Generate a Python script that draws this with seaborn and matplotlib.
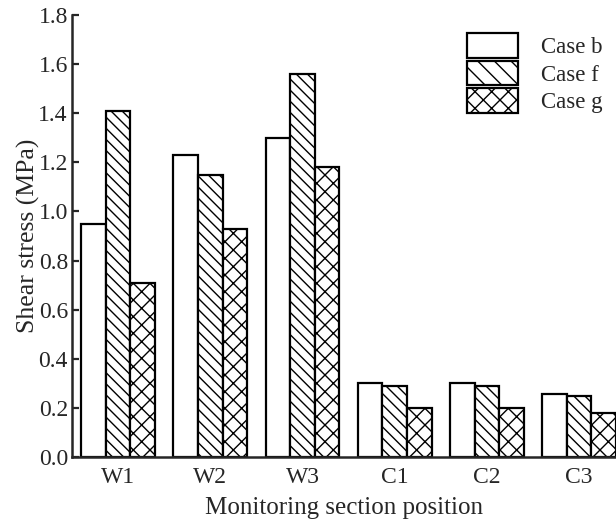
import matplotlib
matplotlib.use("Agg")
import matplotlib.pyplot as plt
import seaborn as sns
import pandas as pd

positions = ["W1", "W2", "W3", "C1", "C2", "C3"]
cases = ["Case b", "Case f", "Case g"]
case_b = [0.95, 1.23, 1.30, 0.30, 0.30, 0.255]
case_f = [1.41, 1.15, 1.56, 0.29, 0.29, 0.25]
case_g = [0.71, 0.93, 1.18, 0.20, 0.20, 0.18]
y_ticks = [0.0, 0.2, 0.4, 0.6, 0.8, 1.0, 1.2, 1.4, 1.6, 1.8]

df = pd.DataFrame({
    "position": positions * 3,
    "case": [c for c in cases for _ in positions],
    "stress": case_b + case_f + case_g,
})

sns.set_style("ticks")
plt.rcParams["font.family"] = ["Liberation Serif", "DejaVu Serif"]
plt.rcParams["hatch.linewidth"] = 1.0

fig = plt.figure(figsize=(6.16, 5.21), dpi=100)
ax = fig.add_axes([0.117, 0.123, 0.883, 0.848])

sns.barplot(data=df, x="position", y="stress", hue="case", order=positions,
            hue_order=cases, palette=["white"] * 3, edgecolor="black",
            linewidth=1.6, width=0.8, saturation=1, ax=ax, legend=True)

hatches = ["", "\\\\\\", "xx"]
for cont, h in zip(ax.containers, hatches):
    for bar in cont:
        bar.set_hatch(h)
        bar.set_edgecolor("black")

ax.set_xlim(-0.5, 5.4)
ax.set_ylim(0, 1.8)
ax.set_yticks(y_ticks)
ax.set_yticklabels([f"{t:.1f}" for t in y_ticks])
ax.tick_params(axis="y", direction="in", length=5, width=1.6, labelsize=17, pad=3)
ax.tick_params(axis="x", length=0, labelsize=17, pad=7)
for s in ["top", "right"]:
    ax.spines[s].set_visible(False)
for s in ["left", "bottom"]:
    ax.spines[s].set_linewidth(1.8)
ax.set_xlabel("Monitoring section position", fontsize=18, labelpad=7)
ax.set_ylabel("Shear stress (MPa)", fontsize=18.5, labelpad=-1)

leg = ax.legend(handles=[ax.containers[i][0] for i in range(3)], labels=cases,
                loc="upper right", bbox_to_anchor=(1.0, 0.99), frameon=False,
                fontsize=16.5, handlelength=2.2, handleheight=1.25,
                labelspacing=0.12, handletextpad=1.0, borderaxespad=0.2)
leg_hatches = ["", "\\\\", "xx"]
for patch, h in zip(leg.get_patches(), leg_hatches):
    patch.set_hatch(h)
    patch.set_linewidth(1.6)

fig.savefig("out.png", dpi=100)
